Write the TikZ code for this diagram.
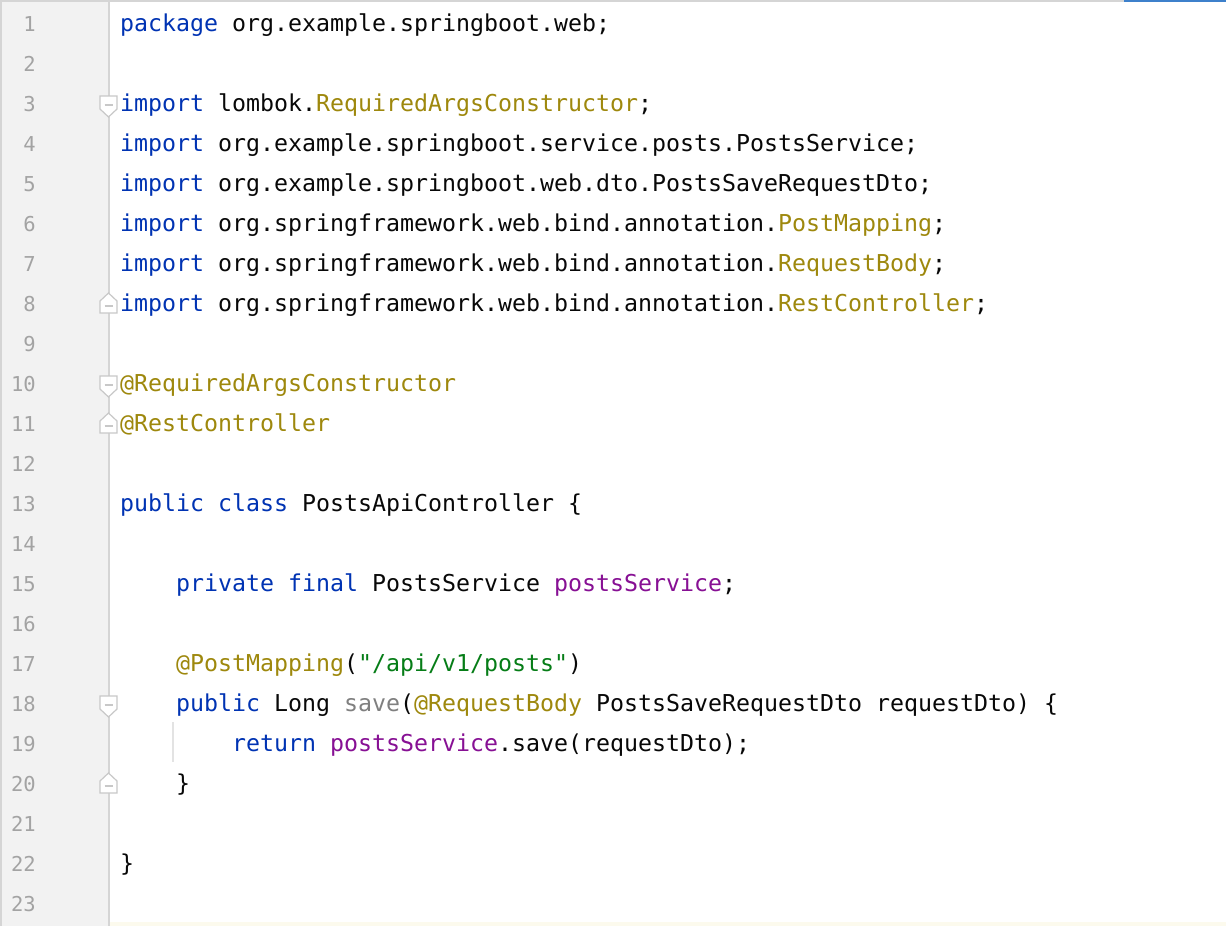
\documentclass[tikz,border=0pt]{standalone}
\usepackage{fontspec}
\setmonofont{DejaVu Sans Mono}
\definecolor{kwc}{HTML}{0033B3}
\definecolor{anc}{HTML}{9E880D}
\definecolor{stc}{HTML}{067D17}
\definecolor{fdc}{HTML}{871094}
\definecolor{unc}{HTML}{808080}
\definecolor{txc}{HTML}{080808}
\definecolor{numc}{HTML}{A3A3A3}
\definecolor{gutbg}{HTML}{F2F2F2}
\definecolor{gutln}{HTML}{D5D5D5}
\definecolor{topbl}{HTML}{3D80CB}
\definecolor{curln}{HTML}{FCFAED}
\definecolor{foldc}{HTML}{C8C8C8}
\definecolor{guidec}{HTML}{E3E3E3}
\newcommand{\kw}[1]{\textcolor{kwc}{#1}}
\newcommand{\an}[1]{\textcolor{anc}{#1}}
\newcommand{\st}[1]{\textcolor{stc}{#1}}
\newcommand{\fd}[1]{\textcolor{fdc}{#1}}
\newcommand{\un}[1]{\textcolor{unc}{#1}}
\tikzset{
  code/.style={anchor=base west, inner sep=0pt, text=txc, font=\ttfamily\fontsize{23.25}{28}\selectfont},
  lnum/.style={anchor=base east, inner sep=0pt, text=numc, font=\ttfamily\fontsize{20.5}{24}\selectfont},
  foldbox/.style={draw=foldc, fill=white, line width=1.2pt, line join=miter},
  foldminus/.style={draw=foldc, line width=1.2pt}
}
\begin{document}
\begin{tikzpicture}[x=1pt,y=-1pt]
\useasboundingbox (0,0) rectangle (1226,926);
\fill[white] (0,0) rectangle (1226,926);
% current line band
\fill[curln] (110,922) rectangle (1226,926);
% gutter
\fill[gutbg] (2,2) rectangle (108,926);
\fill[gutln] (108,2) rectangle (110,926);
\fill[gutln] (0,0) rectangle (2,926);
% top border
\fill[gutln] (0,0) rectangle (1124,2);
\fill[topbl] (1124,0) rectangle (1226,2);
% line numbers
\foreach \i in {1,...,23}{
  \node[lnum] (n\i) at (36,{23+40*(\i-1)+8}) {\i};
}
% indent guide
\coordinate (g1) at (173,722);
\coordinate (g2) at (173,762);
\draw[guidec, line width=1.5pt] (g1) -- (g2);
% fold markers (down = start, up = end)
\foreach \c in {103,383,703}{
  \draw[foldbox] (100,\c-7) -- (117,\c-7) -- (117,\c+6) -- (108.5,\c+14) -- (100,\c+6) -- cycle;
  \draw[foldminus] (104.5,\c+2) -- (112.5,\c+2);
}
\foreach \c in {303,423,783}{
  \draw[foldbox] (100,\c+10) -- (117,\c+10) -- (117,\c-2) -- (108.5,\c-10) -- (100,\c-2) -- cycle;
  \draw[foldminus] (104.5,\c+3) -- (112.5,\c+3);
}
% code
\node[code] (l1) at (120,31) {\kw{package} org.example.springboot.web;};
\node[code] (l3) at (120,111) {\kw{import} lombok.\an{RequiredArgsConstructor};};
\node[code] (l4) at (120,151) {\kw{import} org.example.springboot.service.posts.PostsService;};
\node[code] (l5) at (120,191) {\kw{import} org.example.springboot.web.dto.PostsSaveRequestDto;};
\node[code] (l6) at (120,231) {\kw{import} org.springframework.web.bind.annotation.\an{PostMapping};};
\node[code] (l7) at (120,271) {\kw{import} org.springframework.web.bind.annotation.\an{RequestBody};};
\node[code] (l8) at (120,311) {\kw{import} org.springframework.web.bind.annotation.\an{RestController};};
\node[code] (l10) at (120,391) {\an{@RequiredArgsConstructor}};
\node[code] (l11) at (120,431) {\an{@RestController}};
\node[code] (l13) at (120,511) {\kw{public} \kw{class} PostsApiController \{};
\node[code] (l15) at (176,591) {\kw{private} \kw{final} PostsService \fd{postsService};};
\node[code] (l17) at (176,671) {\an{@PostMapping}(\st{"/api/v1/posts"})};
\node[code] (l18) at (176,711) {\kw{public} Long \un{save}(\an{@RequestBody} PostsSaveRequestDto requestDto) \{};
\node[code] (l19) at (232,751) {\kw{return} \fd{postsService}.save(requestDto);};
\node[code] (l20) at (176,791) {\}};
\node[code] (l22) at (120,871) {\}};
\end{tikzpicture}
\end{document}
